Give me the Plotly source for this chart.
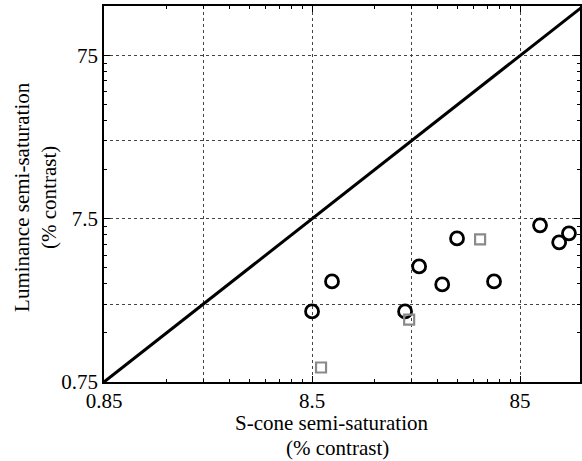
import math
import plotly.graph_objects as go

# Data (log-log axes)
circle_x = [8.5, 10.6, 23.8, 27.8, 35.9, 42.3, 63.7, 106, 131, 146]
circle_y = [2.03, 3.10, 2.03, 3.83, 2.97, 5.69, 3.10, 6.84, 5.38, 6.11]
square_x = [9.39, 24.9, 54.6]
square_y = [0.92, 1.81, 5.61]
unity_x = [0.85, 170]
unity_y = [0.75, 150]

x_ticks = [0.85, 2.55, 8.5, 25.5, 85]
x_ticktext = ["0.85", "", "8.5", "", "85"]
y_ticks = [0.75, 2.25, 7.5, 22.5, 75]
y_ticktext = ["0.75", "", "7.5", "", "75"]

x_minor = [0.85 * k * 10 ** n for n in range(3) for k in range(2, 10)]
y_minor = [0.75 * k * 10 ** n for n in range(3) for k in range(2, 10)]

FONT = "Liberation Serif"

fig = go.Figure()
fig.add_trace(go.Scatter(x=unity_x, y=unity_y, mode="lines",
                         line=dict(color="black", width=3), showlegend=False))
fig.add_trace(go.Scatter(x=circle_x, y=circle_y, mode="markers",
                         marker=dict(symbol="circle-open", size=13, color="black",
                                     line=dict(width=2.8, color="black")),
                         showlegend=False))
fig.add_trace(go.Scatter(x=square_x, y=square_y, mode="markers",
                         marker=dict(symbol="square-open", size=10, color="#8a8a8a",
                                     line=dict(width=2.2, color="#8a8a8a")),
                         showlegend=False))

axis_common = dict(
    type="log", showline=True, linecolor="black", linewidth=1.5, mirror="ticks",
    ticks="inside", ticklen=6, tickcolor="black", tickwidth=1,
    showgrid=True, gridcolor="#444444", griddash="dot", gridwidth=1,
    zeroline=False, tickfont=dict(family=FONT, size=21, color="black"),
    tickmode="array", automargin=False,
)

fig.update_xaxes(**axis_common,
                 range=[math.log10(0.85), math.log10(0.85) + 2.288],
                 tickvals=x_ticks, ticktext=x_ticktext, ticklabelstandoff=-1,
                 minor=dict(tickvals=x_minor, ticks="inside", ticklen=3,
                            tickcolor="black", showgrid=False))
fig.update_yaxes(**axis_common,
                 range=[math.log10(0.75), math.log10(0.75) + 2.304],
                 tickvals=y_ticks, ticktext=y_ticktext,
                 minor=dict(tickvals=y_minor, ticks="inside", ticklen=3,
                            tickcolor="black", showgrid=False))

title_font = dict(family=FONT, size=21, color="black")
fig.update_layout(
    width=582, height=461,
    margin=dict(l=104, r=2, t=6, b=79),
    paper_bgcolor="white", plot_bgcolor="white",
    font=dict(family=FONT, color="black"),
    annotations=[
        dict(text="S-cone semi-saturation", xref="paper", yref="paper",
             x=0.48, y=-0.108, xanchor="center", yanchor="middle", showarrow=False,
             borderpad=0, font=title_font),
        dict(text="(% contrast)", xref="paper", yref="paper",
             x=0.49, y=-0.1765, xanchor="center", yanchor="middle", showarrow=False,
             borderpad=0, font=title_font),
        dict(text="Luminance semi-saturation<br>(% contrast)", xref="paper", yref="paper",
             x=-0.086, y=0.491, xanchor="right", yanchor="middle", textangle=-90,
             showarrow=False, font=title_font),
    ],
)

fig.write_html("out.html", config={"displayModeBar": False},
               post_script="document.body.style.margin='0';document.body.style.overflow='hidden';")
